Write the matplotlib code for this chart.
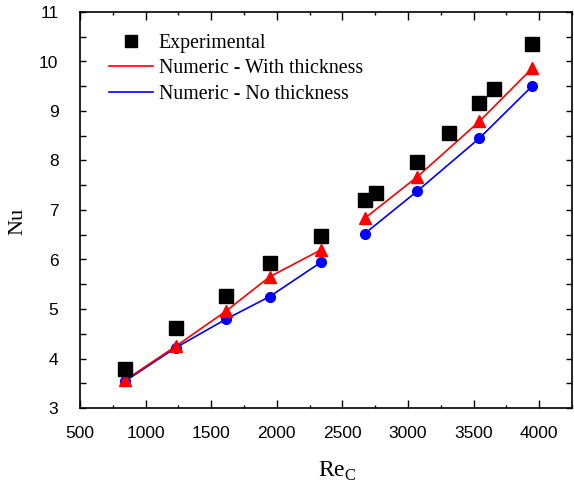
import matplotlib.pyplot as plt
from matplotlib.ticker import MultipleLocator

plt.rcParams['mathtext.fontset'] = 'custom'
plt.rcParams['mathtext.rm'] = 'Liberation Serif'

# experimental data
re_exp = [842, 1231, 1609, 1945, 2340, 2669, 2758, 3070, 3311, 3544, 3658, 3945]
nu_exp = [3.79, 4.61, 5.27, 5.92, 6.48, 7.20, 7.35, 7.97, 8.56, 9.16, 9.44, 10.35]

# numeric results, two groups
re_num1 = [842, 1231, 1609, 1945, 2340]
nu_thick1 = [3.56, 4.25, 4.95, 5.65, 6.20]
nu_nothick1 = [3.54, 4.22, 4.79, 5.25, 5.95]

re_num2 = [2669, 3070, 3544, 3945]
nu_thick2 = [6.83, 7.67, 8.79, 9.86]
nu_nothick2 = [6.52, 7.38, 8.45, 9.50]

RED = "#ff0000"
BLUE = "#0000ff"

fig = plt.figure(figsize=(5.74, 4.9), dpi=100)
ax = fig.add_axes([80 / 574, 82 / 490, 492 / 574, 396 / 490])

for re_n, th, nt in [(re_num1, nu_thick1, nu_nothick1), (re_num2, nu_thick2, nu_nothick2)]:
    ax.plot(re_n, nt, color=BLUE, lw=1.2, zorder=2)
    ax.plot(re_n, nt, 'o', color=BLUE, ms=7, zorder=3)
    ax.plot(re_n, th, color=RED, lw=1.2, zorder=2)
    ax.plot(re_n, th, '^', color=RED, ms=8, zorder=3)

ax.plot(re_exp, nu_exp, 's', color='k', ms=9.5, zorder=4)

# legend proxies
h1, = ax.plot([], [], 's', color='k', ms=8)
h2, = ax.plot([], [], color=RED, lw=1.2)
h3, = ax.plot([], [], color=BLUE, lw=1.2)
ax.legend([h1, h2, h3], ["Experimental", "Numeric - With thickness", "Numeric - No thickness"],
          loc='upper left', bbox_to_anchor=(0.043, 0.965), frameon=False,
          prop={'family': 'Liberation Serif', 'size': 14.3},
          handlelength=2.2, handletextpad=0.3, labelspacing=0.32, borderaxespad=0)

ax.set_xlim(500, 4250)
ax.set_ylim(3, 11)
ax.xaxis.set_major_locator(MultipleLocator(500))
ax.xaxis.set_minor_locator(MultipleLocator(250))
ax.yaxis.set_major_locator(MultipleLocator(1))
ax.yaxis.set_minor_locator(MultipleLocator(0.5))

ax.tick_params(which='both', direction='in', top=True, right=True, width=1.0)
ax.tick_params(axis='x', which='major', length=5.5, pad=13)
ax.tick_params(axis='x', which='minor', length=2.5)
ax.tick_params(axis='y', which='both', length=4)
ax.tick_params(axis='y', which='major', pad=15.5)
ax.tick_params(axis='both', which='major', labelsize=12.5)
for lab in ax.get_xticklabels() + ax.get_yticklabels():
    lab.set_family('Liberation Sans')
for sp in ax.spines.values():
    sp.set_linewidth(1.2)

ax.set_xlabel(r'$\mathrm{Re}_\mathrm{C}$', fontsize=17)
ax.xaxis.set_label_coords(0.522, -0.13)
ax.set_ylabel('Nu', family='Liberation Serif', fontsize=16)
ax.yaxis.set_label_coords(-0.106, 0.472)

fig.savefig('out.png', dpi=100)
